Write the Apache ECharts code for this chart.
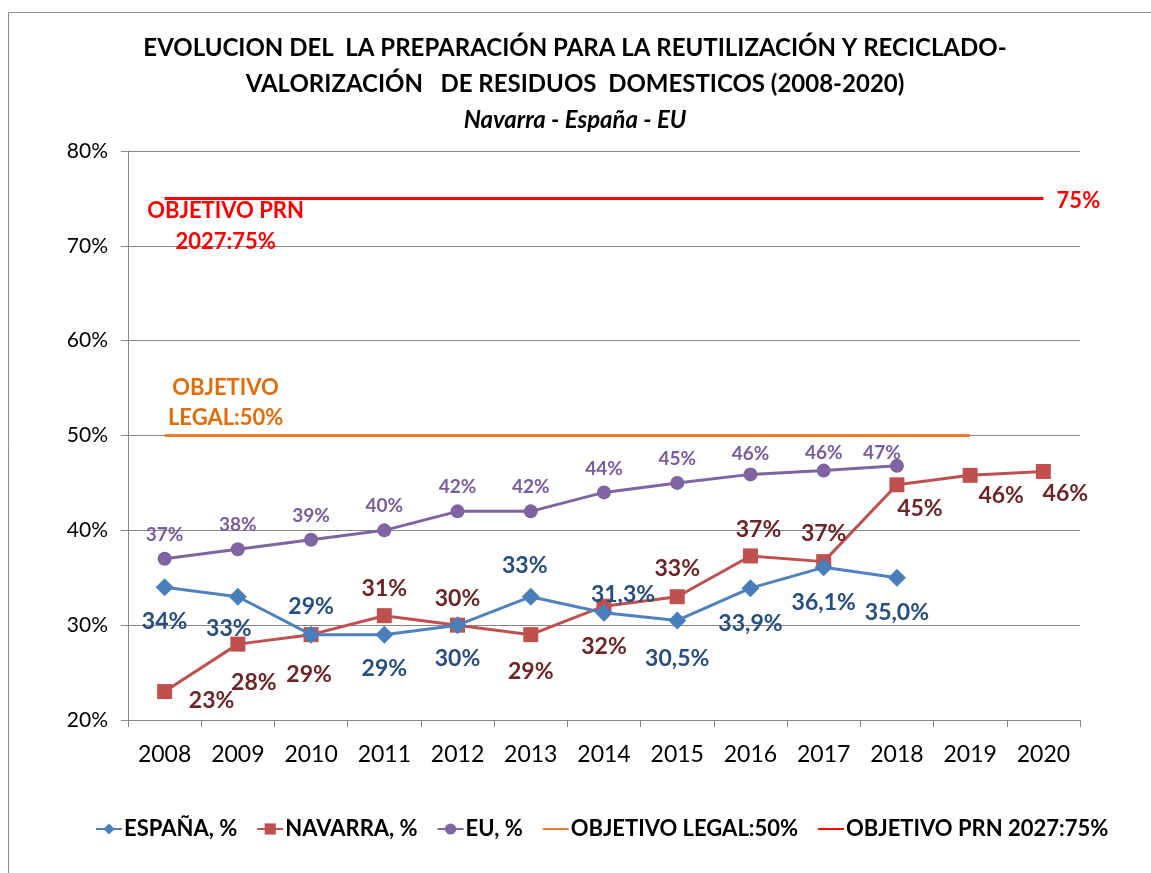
<!DOCTYPE html>
<html><head><meta charset="utf-8">
<script src="https://cdn.jsdelivr.net/npm/echarts@6/dist/echarts.min.js"></script>
<style>html,body{margin:0;padding:0;background:#fff}#c{width:1151px;height:873px}</style>
</head><body><div id="c"></div>
<script>
const years = ['2008','2009','2010','2011','2012','2013','2014','2015','2016','2017','2018','2019','2020'];
const yTicks = [20, 30, 40, 50, 60, 70, 80];
const espana = [34, 33, 29, 29, 30, 33, 31.3, 30.5, 33.9, 36.1, 35.0];
const espanaLabels = ['34%','33%','29%','29%','30%','33%','31,3%','30,5%','33,9%','36,1%','35,0%'];
const navarra = [23, 28, 29, 31, 30, 29, 32, 33, 37.3, 36.7, 44.8, 45.8, 46.2];
const eu = [37, 38, 39, 40, 42, 42, 44, 45, 45.9, 46.3, 46.8];
const objetivoLegal = [50, 50, 50, 50, 50, 50, 50, 50, 50, 50, 50, 50];
const objetivoPRN = [75, 75, 75, 75, 75, 75, 75, 75, 75, 75, 75, 75, 75];

const FONT = 'Lato';
const esOff = [[0,34],[-9,32],[0,-28],[0,34],[0,33],[-6,-31],[19,-18],[0,38],[0,35],[0,35],[0,35]];
const naOff = [[47,9],[16,38],[-2,40],[0,-27],[0,-27],[0,37],[0,40],[0,-28],[8,-26],[0,-28],[23,24],[31,20],[22,22]];
const euOff = [[0,-24],[0,-24],[0,-24],[0,-24],[0,-24],[0,-24],[0,-24],[0,-24],[0,-21],[0,-18],[-15,-13]];

function pts(vals, offs, labels) {
  return vals.map((v, i) => ({
    value: v,
    label: { offset: offs[i], formatter: labels ? labels[i] : Math.round(v) + '%' }
  }));
}

const chart = echarts.init(document.getElementById('c'));
chart.setOption({
  backgroundColor: '#fff',
  animation: false,
  title: {
    left: 570, top: 25, textAlign: 'center',
    text: '{a|EVOLUCION DEL  LA PREPARACIÓN PARA LA REUTILIZACIÓN Y RECICLADO-}\n{a|VALORIZACIÓN   DE RESIDUOS  DOMESTICOS (2008-2020)}\n{b|Navarra - España - EU}',
    textStyle: {
      rich: {
        a: { fontFamily: FONT, fontWeight: 'bold', fontSize: 24, color: '#000', lineHeight: 36, align: 'center' },
        b: { fontFamily: FONT, fontWeight: 'bold', fontStyle: 'italic', fontSize: 24, color: '#000', lineHeight: 36, align: 'center' }
      }
    }
  },
  graphic: [{
    type: 'rect', shape: { x: 8.5, y: 12.5, width: 1200, height: 900 },
    style: { fill: 'none', stroke: '#8c8c8c', lineWidth: 1 }, silent: true
  }],
  legend: {
    bottom: 28, left: 90,
    itemWidth: 26, itemHeight: 14, itemGap: 19,
    textStyle: { fontFamily: FONT, fontWeight: 'bold', fontSize: 22, color: '#000', padding: [0, 0, 0, -3] },
    data: [
      'ESPAÑA, %', 'NAVARRA, %', 'EU, %',
      { name: 'OBJETIVO LEGAL:50%', itemStyle: { opacity: 0 } },
      { name: 'OBJETIVO PRN 2027:75%', itemStyle: { opacity: 0 } }
    ]
  },
  grid: { left: 128, right: 71, top: 151, bottom: 153 },
  xAxis: {
    type: 'category', data: years, boundaryGap: true,
    axisLine: { lineStyle: { color: '#868686', width: 1 } },
    axisTick: { show: true, length: 7, lineStyle: { color: '#868686' } },
    axisLabel: { fontFamily: FONT, fontSize: 23, color: '#000', margin: 23 }
  },
  yAxis: {
    type: 'value', min: yTicks[0], max: yTicks[yTicks.length - 1], interval: 10,
    axisLine: { show: true, lineStyle: { color: '#868686' } },
    axisTick: { show: true, length: 7, lineStyle: { color: '#868686' } },
    axisLabel: { fontFamily: FONT, fontSize: 21, color: '#000', margin: 20, formatter: '{value}%' },
    splitLine: { lineStyle: { color: '#868686', width: 1 } }
  },
  series: [
    {
      name: 'OBJETIVO LEGAL:50%', type: 'line', data: objetivoLegal.map((v, i) => ({
        value: v, label: { show: i === 0, offset: [61, -33], formatter: 'OBJETIVO\nLEGAL:50%' }
      })),
      symbol: 'circle', symbolSize: 0,
      lineStyle: { color: '#ED7D31', width: 3 }, itemStyle: { color: '#ED7D31' },
      label: { position: 'inside', fontFamily: FONT, fontWeight: 'bold', fontSize: 22, color: '#E36C0A', lineHeight: 30, align: 'center' },
      z: 2
    },
    {
      name: 'OBJETIVO PRN 2027:75%', type: 'line', data: objetivoPRN.map((v, i) => ({
        value: v, label: {
          show: i === 0 || i === objetivoPRN.length - 1,
          offset: i === 0 ? [61, 28] : [35, 2],
          formatter: i === 0 ? 'OBJETIVO PRN\n2027:75%' : '75%'
        }
      })),
      symbol: 'circle', symbolSize: 0,
      lineStyle: { color: '#FF0000', width: 3 }, itemStyle: { color: '#FF0000' },
      label: { position: 'inside', fontFamily: FONT, fontWeight: 'bold', fontSize: 22, color: '#FF0000', lineHeight: 31, align: 'center' },
      z: 2
    },
    {
      name: 'EU, %', type: 'line', data: pts(eu, euOff),
      symbol: 'circle', symbolSize: 14,
      lineStyle: { color: '#8064A2', width: 3 }, itemStyle: { color: '#8064A2' },
      label: { show: true, position: 'inside', fontFamily: FONT, fontWeight: 'bold', fontSize: 19, color: '#7A5C9E' },
      z: 3
    },
    {
      name: 'NAVARRA, %', type: 'line', data: pts(navarra, naOff),
      symbol: 'rect', symbolSize: 15,
      lineStyle: { color: '#C0504D', width: 3 }, itemStyle: { color: '#C0504D' },
      label: { show: true, position: 'inside', fontFamily: FONT, fontWeight: 'bold', fontSize: 23, color: '#6E2424' },
      z: 4
    },
    {
      name: 'ESPAÑA, %', type: 'line', data: pts(espana, esOff, espanaLabels),
      symbol: 'diamond', symbolSize: 18,
      lineStyle: { color: '#4F81BD', width: 3 }, itemStyle: { color: '#4A7EBB' },
      label: { show: true, position: 'inside', fontFamily: FONT, fontWeight: 'bold', fontSize: 23, color: '#254E82' },
      z: 5
    }
  ]
});
</script></body></html>
